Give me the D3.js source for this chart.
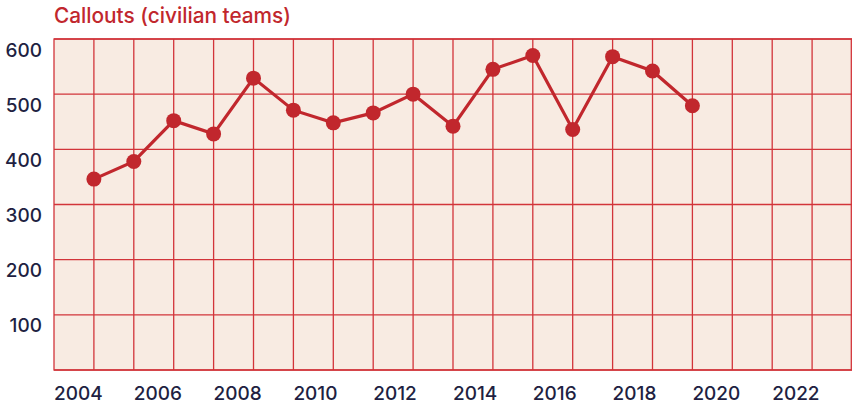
<!DOCTYPE html>
<html>
<head>
<meta charset="utf-8">
<script src="https://cdn.jsdelivr.net/npm/d3@7"></script>
<style>
  body { margin: 0; background: #fff; }
  text { font-family: Inter, "Liberation Sans", Arial, sans-serif; font-weight: 500; }
</style>
</head>
<body>
<div id="container"></div>
<script>
// callouts of civilian teams per year
let years = [2004, 2005, 2006, 2007, 2008, 2009, 2010, 2011, 2012, 2013, 2014, 2015, 2016, 2017, 2018, 2019];
let callouts = [346, 378, 452, 428, 529, 471, 448, 466, 500, 442, 545, 570, 436, 568, 542, 479];
let yTicks = [100, 200, 300, 400, 500, 600];
let xTicks = [2004, 2006, 2008, 2010, 2012, 2014, 2016, 2018, 2020, 2022];
let gridYears = d3.range(2004, 2023);

let w = 852;
let h = 406;
let red = "#c1272d";
let gridCol = "#d2343a";
let ink = "#211f42";

let viz = d3.select("#container").append("svg")
    .attr("width", w)
    .attr("height", h);

let x = d3.scaleLinear().domain([2003, 2023]).range([54, 852]);
let y = d3.scaleLinear().domain([0, 600]).range([370, 39]);

viz.append("text")
    .text("Callouts (civilian teams)")
    .attr("x", 54)
    .attr("y", 23)
    .attr("font-size", 20.8)
    .attr("fill", red);

// plot background
viz.append("rect")
    .attr("x", x(2003))
    .attr("y", y(600))
    .attr("width", x(2023) - x(2003))
    .attr("height", y(0) - y(600))
    .attr("fill", "#f8ebe2");

let grid = viz.append("g")
    .attr("stroke", gridCol)
    .attr("stroke-width", 1.3);

grid.selectAll(".gv")
    .data(gridYears)
    .join("line")
    .attr("x1", d => x(d))
    .attr("x2", d => x(d))
    .attr("y1", y(600))
    .attr("y2", y(0));

grid.selectAll(".gh")
    .data([0].concat(yTicks))
    .join("line")
    .attr("class", "gh")
    .attr("x1", x(2003))
    .attr("x2", x(2023))
    .attr("y1", d => y(d))
    .attr("y2", d => y(d));

grid.append("rect")
    .attr("x", x(2003))
    .attr("y", y(600))
    .attr("width", x(2023) - x(2003) - 0.7)
    .attr("height", y(0) - y(600))
    .attr("fill", "none");

// y labels sit just under their gridline
viz.append("g")
    .selectAll("text")
    .data(yTicks)
    .join("text")
    .text(d => d)
    .attr("x", 42)
    .attr("y", d => y(d) + 17.5)
    .attr("text-anchor", "end")
    .attr("font-size", 19)
    .attr("fill", ink);

// x labels start at the gridline of the year before
viz.append("g")
    .selectAll("text")
    .data(xTicks)
    .join("text")
    .text(d => d)
    .attr("x", d => x(d - 1))
    .attr("y", y(0) + 30)
    .attr("text-anchor", "start")
    .attr("font-size", 19)
    .attr("fill", ink);

let pts = years.map((d, i) => [d, callouts[i]]);

let line = d3.line()
    .x(d => x(d[0]))
    .y(d => y(d[1]));

viz.append("path")
    .datum(pts)
    .attr("d", line)
    .attr("fill", "none")
    .attr("stroke", red)
    .attr("stroke-width", 3.2);

viz.append("g")
    .selectAll("circle")
    .data(pts)
    .join("circle")
    .attr("cx", d => x(d[0]))
    .attr("cy", d => y(d[1]))
    .attr("r", 7.5)
    .attr("fill", red);
</script>
</body>
</html>
